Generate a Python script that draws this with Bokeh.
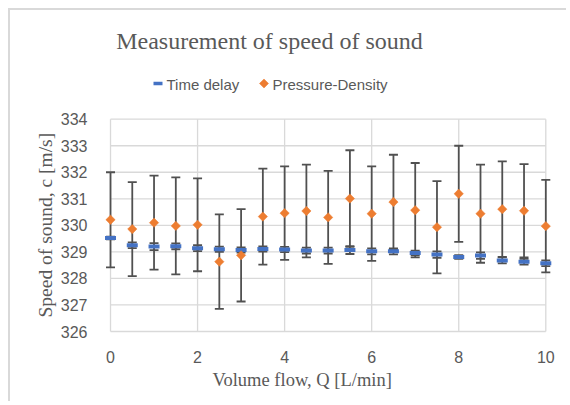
import math
from bokeh.plotting import figure
from bokeh.models import (ColumnDataSource, Whisker, TeeHead, Label, FixedTicker, Range1d, Title)
from bokeh.embed import file_html
from bokeh.resources import INLINE

# ---- data ----
flow = [0, 0.5, 1, 1.5, 2, 2.5, 3, 3.5, 4, 4.5, 5, 5.5, 6, 6.5, 7, 7.5, 8, 8.5, 9, 9.5, 10]
time_delay = [329.52, 329.25, 329.20, 329.21, 329.14, 329.10, 329.07, 329.11, 329.09, 329.05, 329.05,
              329.07, 329.02, 329.02, 328.96, 328.90, 328.81, 328.86, 328.68, 328.63, 328.57]
time_delay_err = [0.05, 0.11, 0.13, 0.11, 0.11, 0.10, 0.10, 0.10, 0.10, 0.11, 0.11,
                  0.15, 0.11, 0.11, 0.09, 0.12, 0.07, 0.12, 0.11, 0.11, 0.11]
pressure_density = [330.21, 329.86, 330.10, 329.98, 330.02, 328.63, 328.87, 330.33, 330.46, 330.54, 330.30,
                    331.01, 330.44, 330.88, 330.57, 329.93, 331.19, 330.44, 330.61, 330.55, 329.97]
pressure_density_err = [1.79, 1.77, 1.77, 1.83, 1.75, 1.78, 1.74, 1.81, 1.76, 1.75, 1.75,
                        1.82, 1.78, 1.78, 1.78, 1.74, 1.81, 1.85, 1.80, 1.76, 1.74]
x_ticks = [0, 2, 4, 6, 8, 10]
y_ticks = [326, 327, 328, 329, 330, 331, 332, 333, 334]
series_names = ["Time delay", "Pressure-Density"]
title_text = "Measurement of speed of sound"
x_label = "Volume flow, Q [L/min]"
y_label = "Speed of sound, c [m/s]"

BLUE = "#4472c4"
ORANGE = "#ed7d31"
TEXT = "#595959"
GRID = "#d9d9d9"
BAR = "#505050"

p = figure(width=558, height=393, output_backend="svg", toolbar_location=None,
           x_range=Range1d(-0.207, 10.2), y_range=Range1d(325.887, 338.096),
           min_border_left=91, min_border_right=14, min_border_top=0, min_border_bottom=69,
           title=None)
p.styles = {"margin-left": "8px", "margin-top": "8px",
            "border-top": "2px solid #d9d9d9", "border-left": "2px solid #d9d9d9"}
p.outline_line_color = None
p.background_fill_color = "white"
p.border_fill_color = "white"
p.xgrid.visible = False
p.ygrid.visible = False

# gridlines limited to the plot area
gh = p.segment(x0=[x_ticks[0]] * len(y_ticks), x1=[x_ticks[-1]] * len(y_ticks), y0=y_ticks, y1=y_ticks,
               line_color=GRID, line_width=1.3)
gv = p.segment(x0=x_ticks, x1=x_ticks, y0=[y_ticks[0]] * len(x_ticks), y1=[y_ticks[-1]] * len(x_ticks),
               line_color=GRID, line_width=1.3)
gh.level = "image"
gv.level = "image"

src = ColumnDataSource(dict(
    x=flow, td=time_delay, pd=pressure_density,
    td_lo=[v - e for v, e in zip(time_delay, time_delay_err)],
    td_hi=[v + e for v, e in zip(time_delay, time_delay_err)],
    pd_lo=[v - e for v, e in zip(pressure_density, pressure_density_err)],
    pd_hi=[v + e for v, e in zip(pressure_density, pressure_density_err)],
))

for lo, hi in (("pd_lo", "pd_hi"), ("td_lo", "td_hi")):
    w = Whisker(source=src, base="x", lower=lo, upper=hi, dimension="height",
                line_color=BAR, line_width=1.8,
                lower_head=TeeHead(size=9, line_color=BAR, line_width=1.8),
                upper_head=TeeHead(size=9, line_color=BAR, line_width=1.8))
    w.level = "underlay"
    p.add_layout(w)

p.scatter(x="x", y="td", source=src, marker="dash", size=11, line_width=4, line_color=BLUE)
p.scatter(x="x", y="pd", source=src, marker="square", size=6.6, angle=math.pi / 4,
          fill_color=ORANGE, line_color=ORANGE, line_width=0.5)

# legend (inside the extended frame, above the plot area)
p.scatter(x=[1.091], y=[335.345], marker="dash", size=9, line_width=3.5, line_color=BLUE)
p.scatter(x=[3.526], y=[335.345], marker="square", size=6.4, angle=math.pi / 4,
          fill_color=ORANGE, line_color=ORANGE, line_width=0.5)
p.add_layout(Label(x=1.286, y=335.306, text=series_names[0], text_font="Liberation Sans",
                   text_font_size="15px", text_color=TEXT, text_baseline="alphabetic"))
p.add_layout(Label(x=3.722, y=335.306, text=series_names[1], text_font="Liberation Sans",
                   text_font_size="15px", text_color=TEXT, text_baseline="alphabetic"))

# chart title
p.add_layout(Label(x=3.653, y=336.943, text=title_text, text_font="Liberation Serif",
                   text_font_size="24px", text_color=TEXT, text_align="center", text_baseline="alphabetic"))

# axis titles
p.add_layout(Title(text=x_label, align="left", offset=111, standoff=4, text_font="Liberation Serif",
                   text_font_size="18.5px", text_font_style="normal", text_color=TEXT), "below")
p.add_layout(Title(text=y_label, align="left", offset=17, standoff=4, text_font="Liberation Serif",
                   text_font_size="19.5px", text_font_style="normal", text_color=TEXT), "left")

for ax, ticks, so in ((p.xaxis[0], x_ticks, 10), (p.yaxis[0], y_ticks, 8)):
    ax.ticker = FixedTicker(ticks=ticks)
    ax.axis_line_color = None
    ax.major_tick_line_color = None
    ax.minor_tick_line_color = None
    ax.major_label_text_font = "Liberation Sans"
    ax.major_label_text_font_size = "16px"
    ax.major_label_text_color = TEXT
    ax.major_label_standoff = so

open("out.html", "w").write(file_html(p, INLINE))
